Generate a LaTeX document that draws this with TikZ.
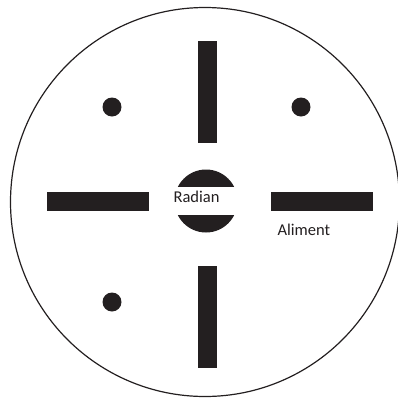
\documentclass[tikz,border=0pt]{standalone}
\usepackage{fontspec}
\setmainfont{Carlito}
\usepackage{tikz}
\usetikzlibrary{positioning}

\definecolor{inkblack}{RGB}{35,31,32}

\begin{document}
\begin{tikzpicture}[
  x=1pt, y=-1pt,
  vbar/.style={rectangle, fill=inkblack, inner sep=0pt, minimum width=19pt, minimum height=102pt},
  hbar/.style={rectangle, fill=inkblack, inner sep=0pt, minimum width=102pt, minimum height=19pt},
  hole/.style={circle, fill=inkblack, inner sep=0pt, minimum size=19pt},
  label/.style={font=\fontsize{16.5}{19}\selectfont, inner sep=0pt, text=inkblack}
]
\useasboundingbox (0,0) rectangle (398,400);

% Outer plate
\node[circle, draw=inkblack, line width=1.2pt, minimum size=389pt, inner sep=0pt] (plate) at (205,202) {};

% Central disk with white band
\node[circle, fill=inkblack, inner sep=0pt, minimum size=63pt] (center) at (206,201) {};
\fill[white] (172,187) rectangle (240,215);
\node[label] (radian) at (196.5,197) {Radian};

% Bars
\node[vbar] (top) at (207.5,91.5) {};
\node[vbar] (bottom) at (207.5,317) {};
\node[hbar] (left) at (97.5,201.5) {};
\node[hbar] (right) at (321.5,201.5) {};
\node[label, below=13pt of right.south west, anchor=north west, xshift=7pt] (aliment) {Aliment};

% Holes
\node[hole] (h1) at (112,107) {};
\node[hole] (h2) at (301,107) {};
\node[hole] (h3) at (112,302) {};

\end{tikzpicture}
\end{document}
